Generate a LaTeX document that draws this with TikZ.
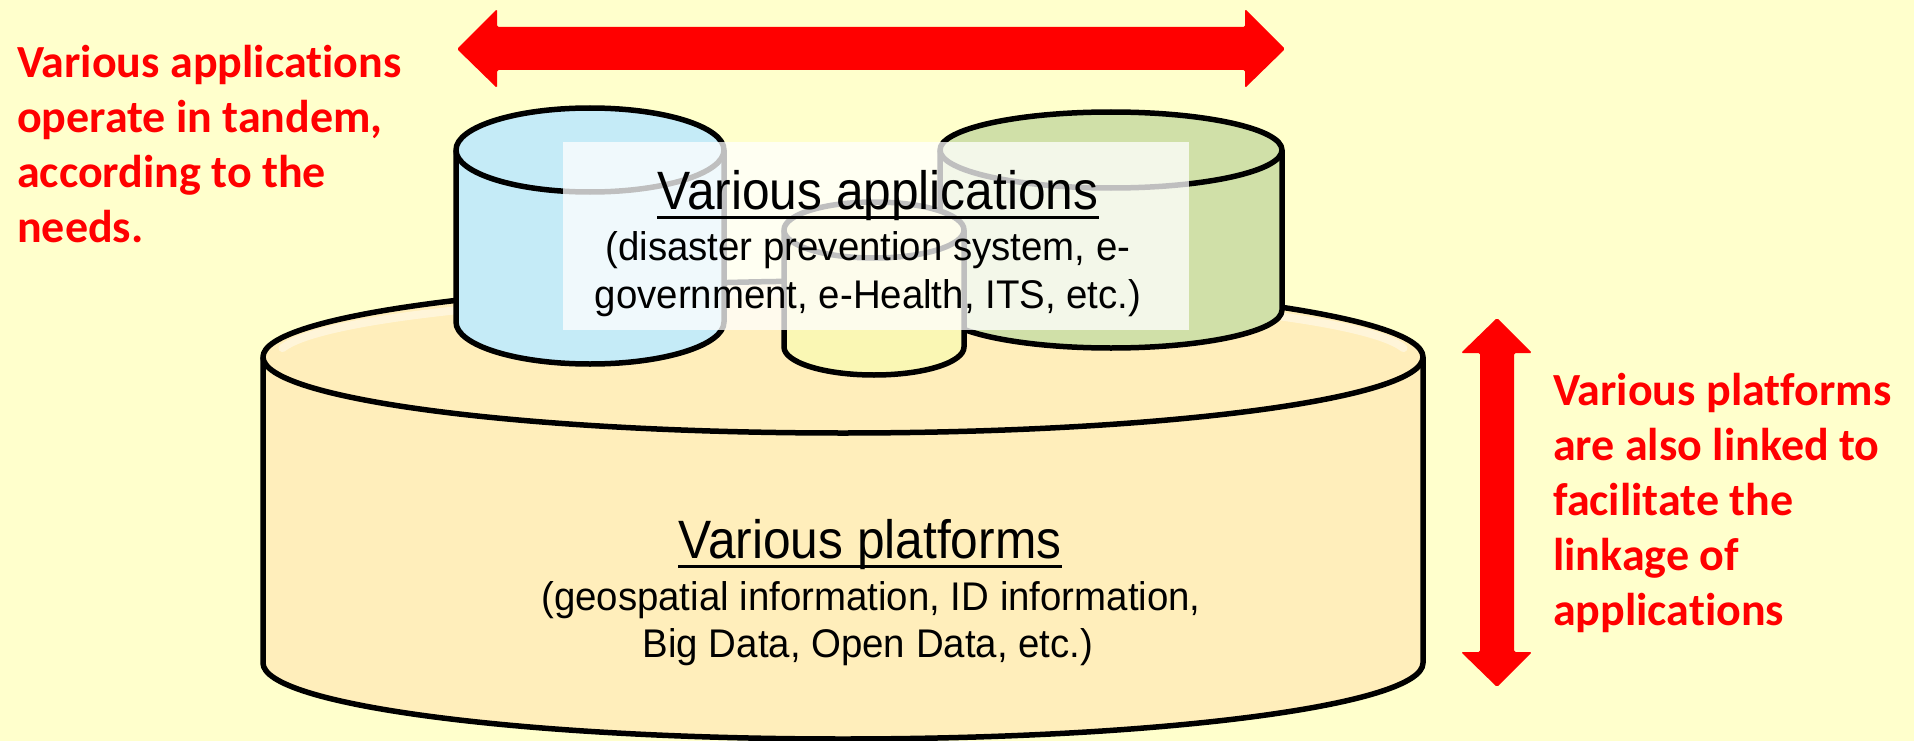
\documentclass[tikz,border=0pt]{standalone}
\usepackage{fontspec}
\newfontfamily\hdrfont[FakeStretch=0.92]{Liberation Sans}
\newfontfamily\subfont[FakeStretch=0.96]{Liberation Sans}
\newfontfamily\redfont[Ligatures=NoCommon]{Carlito}
\definecolor{bgyel}{RGB}{255,255,204}
\definecolor{platfill}{RGB}{255,238,187}
\definecolor{bluefill}{RGB}{197,235,247}
\definecolor{greenfill}{RGB}{208,224,168}
\definecolor{yelfill}{RGB}{250,247,180}
\definecolor{arrred}{RGB}{255,0,0}
\newcommand\mycyl[6]{%
  \path[fill=#6, draw=black, line width=5.5pt, line join=round]
    (#1-#2,#3) -- (#1-#2,#4) arc[start angle=180,end angle=0,x radius=#2,y radius=#5]
    -- (#1+#2,#3) arc[start angle=0,end angle=-180,x radius=#2,y radius=#5] -- cycle;
  \draw[line width=5.5pt] (#1-#2,#3) arc[start angle=180,end angle=0,x radius=#2,y radius=#5];
}
\tikzset{
  redtext/.style={text=arrred, font={\redfont\bfseries\fontsize{46}{55}\selectfont}, align=left, inner sep=0pt},
  hdrtext/.style={text=black, font={\hdrfont\fontsize{54}{60}\selectfont}, inner sep=0pt},
  subtext/.style={text=black, font={\subfont\fontsize{40}{48}\selectfont}, inner sep=0pt},
  blockarrow/.style={fill=arrred, rounded corners=1.5pt}
}
\begin{document}
\begin{tikzpicture}[x=1pt,y=-1pt]
\useasboundingbox (0,0) rectangle (1914,741);
\fill[bgyel] (0,0) rectangle (1914,741);

% platform cylinder
\mycyl{843}{580}{357}{663}{76}{platfill}
\draw[white, opacity=0.45, line width=8pt, line cap=round]
  (843,357) ++(-172:566 and 64) arc[start angle=-172,end angle=-8,x radius=566,y radius=64];

% application cylinders
\mycyl{590}{134}{150}{322}{42}{bluefill}
\mycyl{1111}{171}{150}{310}{38}{greenfill}
\mycyl{874}{90}{230}{347}{28}{yelfill}

% translucent label box
\node[fill=white, fill opacity=0.75, minimum width=626pt, minimum height=188pt, inner sep=0pt] (appbox) at (876,236) {};

% application label
\node[hdrtext, anchor=base] (apphdr) at (878,209) {Various applications};
\draw[line width=3pt] ([yshift=-8pt]apphdr.base west) -- ([yshift=-8pt]apphdr.base east);
\node[subtext, anchor=base] (appsub1) at (868,260) {(disaster prevention system, e-};
\node[subtext, anchor=base] (appsub2) at (868,308) {government, e-Health, ITS, etc.)};

% platform label
\node[hdrtext, anchor=base] (plathdr) at (870,558) {Various platforms};
\draw[line width=3pt] ([yshift=-8pt]plathdr.base west) -- ([yshift=-8pt]plathdr.base east);
\node[subtext, anchor=base] (platsub1) at (871,610) {(geospatial information, ID information,};
\node[subtext, anchor=base] (platsub2) at (868,657) {Big Data, Open Data, etc.)};

% red texts
\node[redtext, anchor=north west] (lefttxt) at (17,45) {Various applications\\operate in tandem,\\according to the\\needs.};
\node[redtext, anchor=north west] (righttxt) at (1553,373) {Various platforms\\are also linked to\\facilitate the\\linkage of\\applications};

% horizontal double arrow
\fill[blockarrow] (457,49) -- (497,9) -- (497,27) -- (1245,27) -- (1245,9) -- (1285,49)
  -- (1245,88) -- (1245,70) -- (497,70) -- (497,88) -- cycle;
% vertical double arrow
\fill[blockarrow] (1497,318) -- (1532,353) -- (1514,353) -- (1514,652) -- (1532,652) -- (1497,687)
  -- (1461,652) -- (1480,652) -- (1480,353) -- (1461,353) -- cycle;
\end{tikzpicture}
\end{document}
